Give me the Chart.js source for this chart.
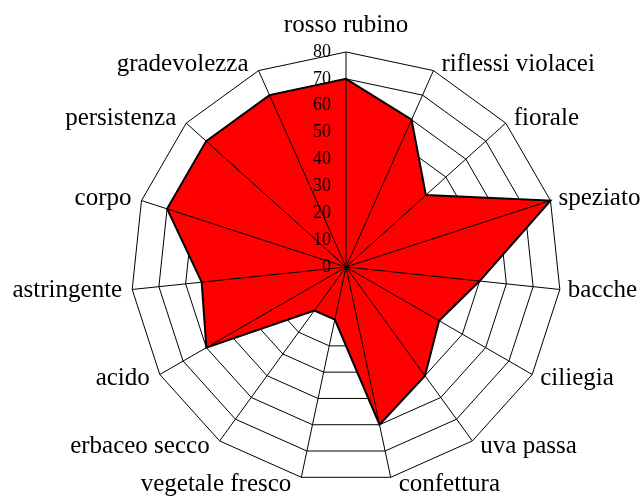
<!DOCTYPE html>
<html>
<head>
<meta charset="utf-8">
<script src="https://cdn.jsdelivr.net/npm/chart.js@4"></script>
<style>
  html, body { margin: 0; padding: 0; background: #fff; }
  .wrap { width: 643px; height: 496px; }
</style>
</head>
<body>
<div class="wrap"><canvas class="chart"></canvas></div>
<script>
const labels = [
  'rosso rubino',
  'riflessi violacei',
  'fiorale',
  'speziato',
  'bacche',
  'ciliegia',
  'uva passa',
  'confettura',
  'vegetale fresco',
  'erbaceo secco',
  'acido',
  'astringente',
  'corpo',
  'persistenza',
  'gradevolezza',
];

const values = [70, 60, 40, 80, 50, 40, 50, 60, 20, 20, 60, 54, 70, 70, 70];

const tickValues = [0, 10, 20, 30, 40, 50, 60, 70, 80];

// spokes over the red area, tick numbers left of the top spoke,
// and category names centred on the spoke ends (excel style)
const overlay = {
  id: 'overlay',
  afterDatasetsDraw(chart) {
    const ctx = chart.ctx;
    const r = chart.scales.r;
    const max = r.max;
    ctx.save();
    ctx.strokeStyle = '#000';
    ctx.lineWidth = 1;
    for (let i = 0; i < labels.length; i++) {
      const p = r.getPointPositionForValue(i, max);
      ctx.beginPath();
      ctx.moveTo(r.xCenter, r.yCenter);
      ctx.lineTo(p.x, p.y);
      ctx.stroke();
    }

    ctx.fillStyle = '#000';
    ctx.font = '18px "Liberation Serif"';
    ctx.textAlign = 'right';
    ctx.textBaseline = 'middle';
    tickValues.forEach(v => {
      ctx.fillText(String(v), r.xCenter - 15, r.yCenter - r.getDistanceFromCenterForValue(v));
    });

    ctx.font = '25px "Liberation Serif"';
    labels.forEach((lab, i) => {
      const a = r.getIndexAngle(i);
      const p = r.getPointPositionForValue(i, max);
      const s = Math.sin(a), c = Math.cos(a);
      if (Math.abs(s) < 0.01) {
        ctx.textAlign = 'center';
        ctx.textBaseline = 'alphabetic';
        ctx.fillText(lab, p.x, p.y - 20);
        return;
      }
      ctx.textAlign = s > 0 ? 'left' : 'right';
      ctx.textBaseline = 'middle';
      ctx.fillText(lab, p.x + (s > 0 ? 8 : -10), p.y - 7 * c);
    });
    ctx.restore();
  }
};

const data = {
  labels: labels,
  datasets: [{
    label: 'profilo',
    data: values,
    backgroundColor: '#ff0000',
    borderColor: '#000',
    borderWidth: 2,
    pointRadius: 0,
  }]
};

const config = {
  type: 'radar',
  data: data,
  plugins: [overlay],
  options: {
    responsive: true,
    maintainAspectRatio: false,
    animation: false,
    layout: { padding: { top: 52, bottom: 14, left: 131, right: 82 } },
    plugins: {
      legend: { display: false },
      tooltip: { enabled: false },
    },
    scales: {
      r: {
        min: 0,
        max: 80,
        ticks: { display: false, stepSize: 10 },
        grid: { color: '#000', lineWidth: 1 },
        angleLines: { display: false },
        pointLabels: { display: false },
      }
    }
  }
};

const myChart = new Chart(document.querySelector('.chart'), config);
</script>
</body>
</html>
